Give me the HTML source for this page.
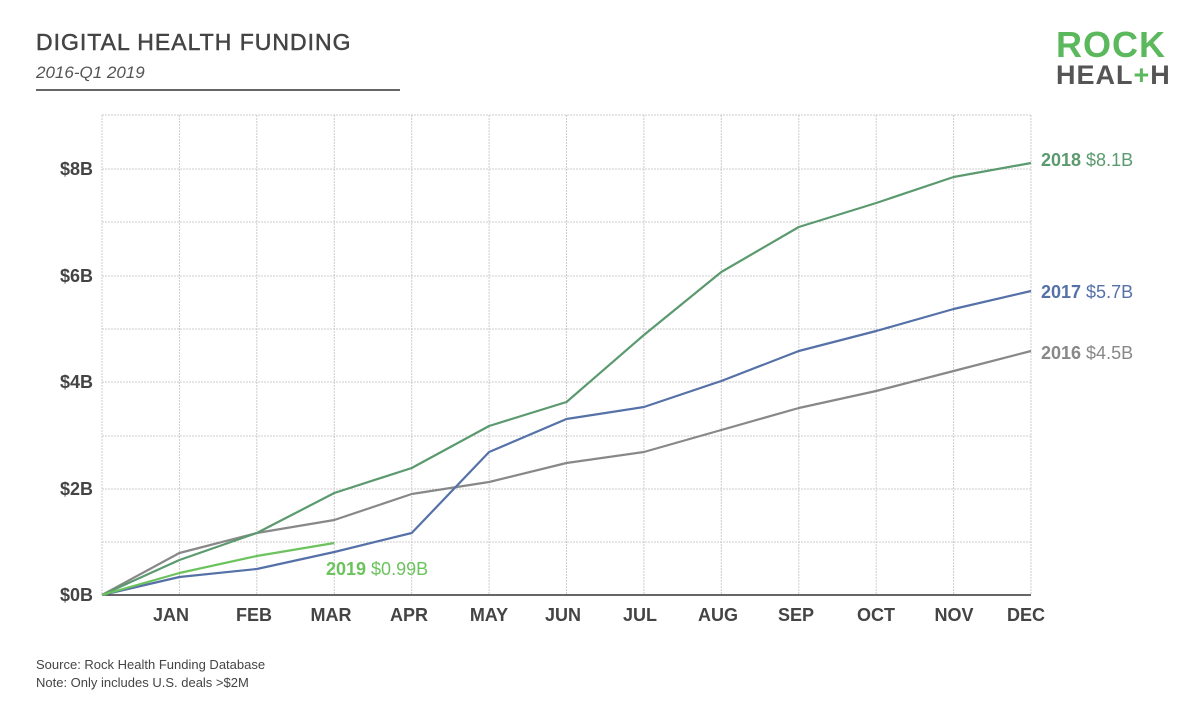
<!DOCTYPE html>
<html><head><meta charset="utf-8"><style>
body{margin:0;background:#fff;}
svg{display:block;font-family:"Liberation Sans",sans-serif;}
</style></head><body>
<svg width="1200" height="720" viewBox="0 0 1200 720">
<rect width="1200" height="720" fill="#fff"/>
<text x="36" y="50" font-size="23" fill="#444" stroke="#444" stroke-width="0.5" letter-spacing="1">DIGITAL HEALTH FUNDING</text>
<text x="36" y="78" font-size="17" font-style="italic" fill="#555">2016-Q1 2019</text>
<line x1="36" y1="90" x2="400" y2="90" stroke="#666" stroke-width="2"/>
<text x="1056" y="57" font-size="36" font-weight="bold" fill="#5cb85c" letter-spacing="1">ROCK</text>
<text x="1056" y="84" font-size="27" font-weight="bold" fill="#555" letter-spacing="1">HEAL<tspan fill="#5cb85c">+</tspan>H</text>
<g stroke="#ccc" stroke-width="1" stroke-dasharray="2,1">
<line x1="102" y1="115" x2="1031" y2="115"/>
<line x1="102" y1="169" x2="1031" y2="169"/>
<line x1="102" y1="222" x2="1031" y2="222"/>
<line x1="102" y1="276" x2="1031" y2="276"/>
<line x1="102" y1="329" x2="1031" y2="329"/>
<line x1="102" y1="382" x2="1031" y2="382"/>
<line x1="102" y1="436" x2="1031" y2="436"/>
<line x1="102" y1="489" x2="1031" y2="489"/>
<line x1="102" y1="542" x2="1031" y2="542"/>
<line x1="102" y1="115" x2="102" y2="595"/>
<line x1="179.4" y1="115" x2="179.4" y2="595"/>
<line x1="256.8" y1="115" x2="256.8" y2="595"/>
<line x1="334.3" y1="115" x2="334.3" y2="595"/>
<line x1="411.7" y1="115" x2="411.7" y2="595"/>
<line x1="489.1" y1="115" x2="489.1" y2="595"/>
<line x1="566.5" y1="115" x2="566.5" y2="595"/>
<line x1="643.9" y1="115" x2="643.9" y2="595"/>
<line x1="721.3" y1="115" x2="721.3" y2="595"/>
<line x1="798.8" y1="115" x2="798.8" y2="595"/>
<line x1="876.2" y1="115" x2="876.2" y2="595"/>
<line x1="953.6" y1="115" x2="953.6" y2="595"/>
<line x1="1031" y1="115" x2="1031" y2="595"/>
</g>
<line x1="102" y1="595" x2="1031" y2="595" stroke="#333" stroke-width="1.5"/>
<g font-size="18" font-weight="bold" fill="#444" text-anchor="end">
<text x="93" y="175">$8B</text><text x="93" y="282">$6B</text><text x="93" y="388">$4B</text><text x="93" y="495">$2B</text><text x="93" y="601">$0B</text>
</g>
<g font-size="18" font-weight="bold" fill="#444" text-anchor="middle">
<text x="171" y="621">JAN</text><text x="254" y="621">FEB</text><text x="331" y="621">MAR</text><text x="409" y="621">APR</text><text x="489" y="621">MAY</text><text x="563" y="621">JUN</text><text x="640" y="621">JUL</text><text x="718" y="621">AUG</text><text x="796" y="621">SEP</text><text x="876" y="621">OCT</text><text x="954" y="621">NOV</text><text x="1026" y="621">DEC</text>
</g>
<g fill="none" stroke-width="2.2" stroke-linejoin="round">
<polyline stroke="#888" points="102,595 179.4,553 256.8,533 334.3,520 411.7,494 489.1,482 566.5,463 643.9,452 721.3,430 798.8,408 876.2,391 953.6,371 1031,351"/>
<polyline stroke="#5571a8" points="102,595 179.4,577 256.8,569 334.3,552 411.7,533 489.1,452 566.5,419 643.9,407 721.3,381 798.8,351 876.2,331 953.6,309 1031,291"/>
<polyline stroke="#5a9a6e" points="102,595 179.4,560 256.8,533 334.3,493 411.7,468 489.1,426 566.5,402 643.9,335 721.3,272 798.8,227 876.2,203 953.6,177 1031,163"/>
<polyline stroke="#6cc35e" points="102,595 179.4,573 256.8,556 334.3,543"/>
</g>
<g font-size="18">
<text x="1041" y="166" fill="#5a9a6e"><tspan font-weight="bold">2018</tspan>  $8.1B</text>
<text x="1041" y="298" fill="#5571a8"><tspan font-weight="bold">2017</tspan>  $5.7B</text>
<text x="1041" y="359" fill="#888"><tspan font-weight="bold">2016</tspan>  $4.5B</text>
<text x="326" y="575" fill="#6cc35e"><tspan font-weight="bold">2019</tspan>  $0.99B</text>
</g>
<text x="36" y="669" font-size="13" fill="#444">Source: Rock Health Funding Database</text>
<text x="36" y="687" font-size="13" fill="#444">Note: Only includes U.S. deals &gt;$2M</text>
</svg>
</body></html>
